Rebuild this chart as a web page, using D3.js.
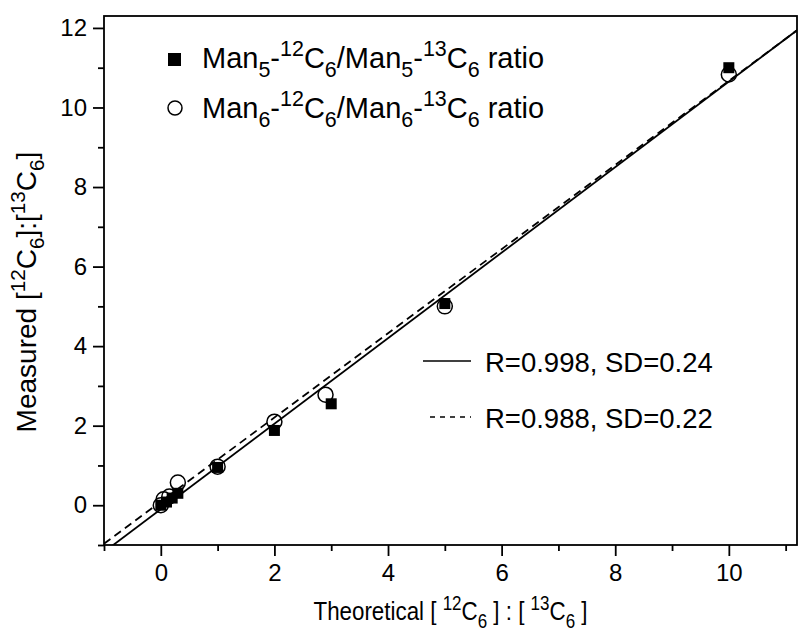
<!DOCTYPE html>
<html>
<head>
    <title>Measured vs theoretical</title>
    <script src="https://d3js.org/d3.v7.min.js"></script>
    <style>
        body { margin: 0; background: #fff; }
        svg { font-family: "Liberation Sans", Arial, sans-serif; }
        .axis .domain { display: none; }
        .axis text { font-size: 24px; fill: #000; }
        .axis line { stroke: #000; stroke-width: 1.8; }
    </style>
</head>
<body>
<script>
    // tick values
    const xTicks = [0, 2, 4, 6, 8, 10];
    const yTicks = [0, 2, 4, 6, 8, 10, 12];
    const xMinor = [-1, 1, 3, 5, 7, 9, 11];
    const yMinor = [-1, 1, 3, 5, 7, 9, 11];

    // Man5 (filled squares)
    const man5X = [0, 0.1, 0.2, 0.3, 1, 2, 3, 5, 10];
    const man5Y = [0.0, 0.08, 0.18, 0.3, 0.95, 1.88, 2.55, 5.07, 11.0];
    // Man6 (open circles)
    const man6X = [0, 0.05, 0.15, 0.3, 1, 2, 2.9, 5, 10];
    const man6Y = [0.0, 0.15, 0.22, 0.57, 0.97, 2.1, 2.78, 5.0, 10.83];

    // regression lines
    const fitSlopes = [1.075, 1.058];
    const fitIntercepts = [-0.1, 0.09];
    const fitLabels = ["R=0.998, SD=0.24", "R=0.988, SD=0.22"];

    const width = 800, height = 639;
    const margin = {top: 16, right: 3, bottom: 94, left: 104};
    const chartWidth = width - margin.left - margin.right;
    const chartHeight = height - margin.top - margin.bottom;

    const svg = d3.select("body").append("svg")
        .attr("width", width)
        .attr("height", height);

    const xScale = d3.scaleLinear().domain([-1, 11.2]).range([0, chartWidth]);
    const yScale = d3.scaleLinear().domain([-1, 12.3]).range([chartHeight, 0]);

    const chartArea = svg.append("g")
        .attr("transform", "translate(" + margin.left + "," + margin.top + ")");

    svg.append("defs").append("clipPath").attr("id", "clip")
        .append("rect").attr("width", chartWidth).attr("height", chartHeight);

    // axes
    chartArea.append("g")
        .attr("class", "axis")
        .attr("transform", `translate(0,${chartHeight})`)
        .call(d3.axisBottom(xScale).tickValues(xTicks).tickSize(11).tickPadding(8));
    chartArea.append("g")
        .attr("class", "axis")
        .attr("transform", `translate(0,${chartHeight})`)
        .call(d3.axisBottom(xScale).tickValues(xMinor).tickSize(6).tickFormat(""));
    chartArea.append("g")
        .attr("class", "axis")
        .call(d3.axisLeft(yScale).tickValues(yTicks).tickSize(11).tickPadding(6));
    chartArea.append("g")
        .attr("class", "axis")
        .call(d3.axisLeft(yScale).tickValues(yMinor).tickSize(6).tickFormat(""));

    // frame
    chartArea.append("rect")
        .attr("width", chartWidth)
        .attr("height", chartHeight)
        .attr("fill", "none")
        .attr("stroke", "#000")
        .attr("stroke-width", 1.8);

    // fit lines
    const plot = chartArea.append("g").attr("clip-path", "url(#clip)");
    fitSlopes.forEach(function(s, i) {
        const x0 = -1, x1 = 11.2;
        plot.append("line")
            .attr("x1", xScale(x0)).attr("y1", yScale(fitIntercepts[i] + s * x0))
            .attr("x2", xScale(x1)).attr("y2", yScale(fitIntercepts[i] + s * x1))
            .attr("stroke", "#000")
            .attr("stroke-width", 1.8)
            .attr("stroke-dasharray", i === 1 ? "8,5" : null);
    });

    // points
    const sq = 11;
    man5X.forEach(function(x, i) {
        chartArea.append("rect")
            .attr("x", xScale(x) - sq / 2)
            .attr("y", yScale(man5Y[i]) - sq / 2)
            .attr("width", sq).attr("height", sq)
            .attr("fill", "#000");
    });
    man6X.forEach(function(x, i) {
        chartArea.append("circle")
            .attr("cx", xScale(x))
            .attr("cy", yScale(man6Y[i]))
            .attr("r", 7.5)
            .attr("fill", "none")
            .attr("stroke", "#000")
            .attr("stroke-width", 1.5);
    });

    // rich text helper: parts = [text, "^sup", "_sub", ...]
    function richText(sel, parts, size, ratio) {
        let shift = 0;
        parts.forEach(function(p) {
            let target = 0, fs = size, t = p;
            if (p[0] === "^") { target = -size * 0.4; fs = size * ratio; t = p.slice(1); }
            else if (p[0] === "_") { target = size * 0.3; fs = size * ratio; t = p.slice(1); }
            sel.append("tspan")
                .attr("dy", target - shift)
                .attr("font-size", fs)
                .text(t);
            shift = target;
        });
    }

    // legend (symbols)
    const legend = svg.append("g");
    legend.append("rect")
        .attr("x", 168).attr("y", 53).attr("width", 13).attr("height", 13)
        .attr("fill", "#000");
    legend.append("circle")
        .attr("cx", 175).attr("cy", 108).attr("r", 7)
        .attr("fill", "none").attr("stroke", "#000").attr("stroke-width", 1.5);
    richText(legend.append("text").attr("x", 202).attr("y", 68),
        ["Man", "_5", "-", "^12", "C", "_6", "/Man", "_5", "-", "^13", "C", "_6", " ratio"], 29, 0.74);
    richText(legend.append("text").attr("x", 202).attr("y", 118),
        ["Man", "_6", "-", "^12", "C", "_6", "/Man", "_6", "-", "^13", "C", "_6", " ratio"], 29, 0.74);

    // legend (lines)
    const legend2 = svg.append("g");
    fitLabels.forEach(function(label, i) {
        const y = 361 + i * 56;
        legend2.append("line")
            .attr("x1", i === 1 ? 430 : 423).attr("x2", 471)
            .attr("y1", y).attr("y2", y)
            .attr("stroke", "#000")
            .attr("stroke-width", 1.3)
            .attr("stroke-dasharray", i === 1 ? "5,5" : null);
        legend2.append("text")
            .attr("x", 485).attr("y", y + 11)
            .attr("font-size", 27.5)
            .text(label);
    });

    // axis titles
    const yTitle = svg.append("text")
        .attr("transform", `translate(36,292) rotate(-90)`)
        .attr("text-anchor", "middle");
    richText(yTitle, ["Measured [", "^12", "C", "_6", "]:[", "^13", "C", "_6", "]"], 28, 0.74);

    const xTitle = svg.append("text")
        .attr("transform", `translate(${margin.left + chartWidth / 2},620) scale(0.86,1)`)
        .attr("text-anchor", "middle");
    richText(xTitle, ["Theoretical [ ", "^12", "C", "_6", " ] : [ ", "^13", "C", "_6", " ]"], 26, 0.76);
</script>
</body>
</html>
